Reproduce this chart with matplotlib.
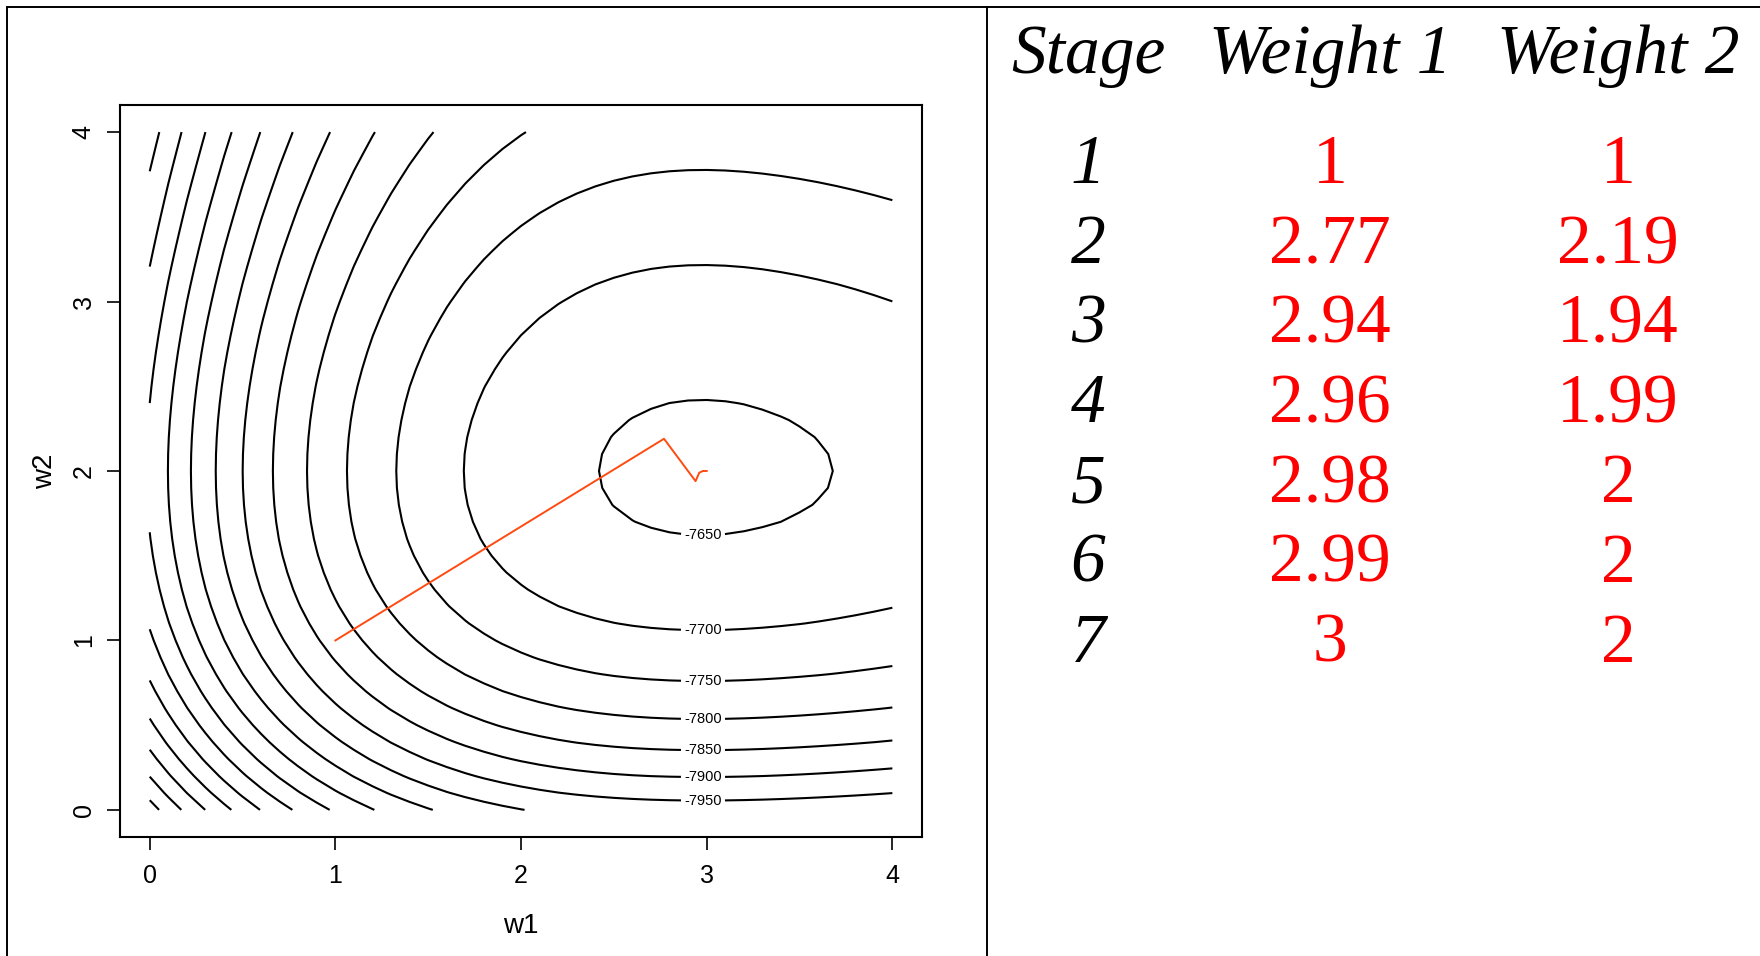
import matplotlib
matplotlib.use("Agg")
import matplotlib.pyplot as plt
from matplotlib.lines import Line2D
import numpy as np

plt.rcParams["font.family"] = ["Liberation Sans", "DejaVu Sans"]

# contour levels of the log-likelihood surface (R contour, step 50)
levels = [-8450, -8400, -8350, -8300, -8250, -8200, -8150, -8100, -8050,
          -8000, -7950, -7900, -7850, -7800, -7750, -7700, -7650]
labelled = [-7950, -7900, -7850, -7800, -7750, -7700, -7650]

# where the contours cross the frame / two profiles
left_w2 = [0.053, 0.191, 0.356, 0.539, 0.765, 1.064, 1.640, 2.390, 3.209, 3.764]
left_lv = [-8450, -8400, -8350, -8300, -8250, -8200, -8150, -8150, -8200, -8250]
bottom_w1 = [0.05, 0.167, 0.298, 0.427, 0.60, 0.80, 0.987, 1.222, 1.508, 1.966]
bottom_lv = [-8450, -8400, -8350, -8300, -8250, -8200, -8150, -8100, -8050, -8000]
top_w1 = [0.054, 0.176, 0.298, 0.44, 0.592, 0.765, 0.965, 1.206, 1.53, 2.045]
top_lv = [-8250, -8200, -8150, -8100, -8050, -8000, -7950, -7900, -7850, -7800]
right_w2 = [0.093, 0.244, 0.411, 0.604, 0.85, 1.19, 2.997, 3.593]
right_lv = [-7950, -7900, -7850, -7800, -7750, -7700, -7700, -7750]
mid_w1 = [0.099, 0.22, 0.355, 0.494, 0.66, 0.84, 1.055, 1.32, 1.69, 2.43, 3.677]
mid_lv = [-8100, -8050, -8000, -7950, -7900, -7850, -7800, -7750, -7700, -7650, -7650]
col_w2 = [0.044, 0.195, 0.352, 0.535, 0.761, 1.06, 1.62, 2.421, 3.219, 3.774]
col_lv = [-7950, -7900, -7850, -7800, -7750, -7700, -7650, -7650, -7700, -7750]

# iterations shown in the table and drawn as the path
stages = [1, 2, 3, 4, 5, 6, 7]
weight1 = [1, 2.77, 2.94, 2.96, 2.98, 2.99, 3]
weight2 = [1, 2.19, 1.94, 1.99, 2, 2, 2]

# separable surface z = c + h(w1) + g(w2), fitted to the crossings
pts_w1 = np.concatenate([np.zeros(len(left_w2)), bottom_w1, top_w1,
                         np.full(len(right_w2), 4.0), mid_w1, np.full(len(col_w2), 3.0)])
pts_w2 = np.concatenate([left_w2, np.zeros(len(bottom_w1)), np.full(len(top_w1), 4.0),
                         right_w2, np.full(len(mid_w1), 2.0), col_w2])
pts_lv = np.concatenate([left_lv, bottom_lv, top_lv, right_lv, mid_lv, col_lv]).astype(float)
# flat top near the optimum: lean harder on the inner contours
wts = np.where(pts_lv >= -7700, 4.0, 1.0)

deg = 5


def design(a, b):
    cols = [np.ones_like(a)] + [a ** k for k in range(1, deg + 1)] + [b ** k for k in range(1, deg + 1)]
    return np.column_stack(cols)


coef, *_ = np.linalg.lstsq(design(pts_w1, pts_w2) * wts[:, None], pts_lv * wts, rcond=None)
grid = np.linspace(0, 4, 41)
W1, W2 = np.meshgrid(grid, grid)
Z = (design(W1.ravel(), W2.ravel()) @ coef).reshape(W1.shape)

fig = plt.figure(figsize=(17.6, 9.56), dpi=100)
ax = fig.add_axes([0.0682, 0.1245, 0.4557, 0.7657])

plain = [lv for lv in levels if lv not in labelled]
ax.contour(W1, W2, Z, levels=plain, colors="black", linewidths=1.5, linestyles="solid")
cs = ax.contour(W1, W2, Z, levels=labelled, colors="black", linewidths=1.5, linestyles="solid")
label_pos = [(2.98, y) for y in col_w2[:7]]
ax.clabel(cs, manual=label_pos, inline=True, fmt="%d", fontsize=10.5, inline_spacing=5)

ax.plot(weight1, weight2, color="#FF4A10", lw=1.4)

ax.set_xlim(-0.16, 4.16)
ax.set_ylim(-0.16, 4.16)
ax.set_xticks([0, 1, 2, 3, 4])
ax.set_yticks([0, 1, 2, 3, 4])
ax.tick_params(direction="out", length=9.4, width=1.2, labelsize=18)
ax.tick_params(axis="x", pad=10)
ax.tick_params(axis="y", pad=8)
for lab in ax.get_yticklabels():
    lab.set_rotation(90)
    lab.set_va("center")
for s in ax.spines.values():
    s.set_linewidth(1.5)
ax.set_xlabel("w1", fontsize=20, labelpad=18)
ax.set_ylabel("w2", fontsize=20, labelpad=10)

# table on the right
col_x = [1088 / 1760, 1330 / 1760, 1618 / 1760]
header = ["Stage", "Weight 1", "Weight 2"]
serif = ["Liberation Serif", "DejaVu Serif"]
for x, h in zip(col_x, header):
    fig.text(x, 1 - 72.7 / 956, h, fontsize=50, family=serif, style="italic",
             ha="center", va="baseline")
for i, (s, a, b) in enumerate(zip(stages, weight1, weight2)):
    y = 1 - (183.4 + 79.7 * i) / 956
    fig.text(col_x[0], y, str(s), fontsize=50, family=serif, style="italic",
             ha="center", va="baseline")
    fig.text(col_x[1], y, f"{a:g}", fontsize=50, family=serif, color="red",
             ha="center", va="baseline")
    fig.text(col_x[2], y, f"{b:g}", fontsize=50, family=serif, color="red",
             ha="center", va="baseline")

# frame lines around the panels
top_y = 1 - 6.7 / 956
for xs, ys in [([7 / 1760, 1], [top_y, top_y]),
               ([7.3 / 1760, 7.3 / 1760], [0, top_y]),
               ([986.6 / 1760, 986.6 / 1760], [0, top_y])]:
    fig.add_artist(Line2D(xs, ys, transform=fig.transFigure, color="black", lw=1.4))

fig.savefig("out.png", dpi=100)
